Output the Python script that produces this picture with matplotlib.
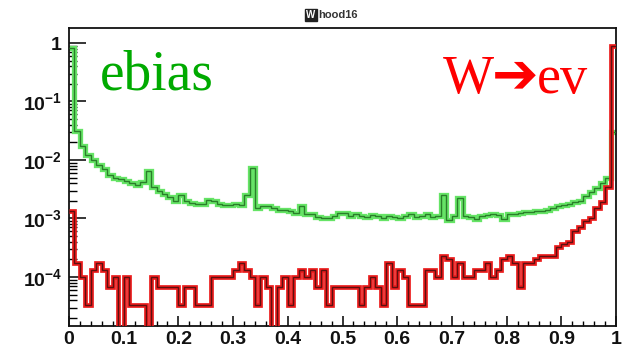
import numpy as np
import matplotlib
matplotlib.use("Agg")
import matplotlib.pyplot as plt
from matplotlib.ticker import FixedLocator, FixedFormatter, MultipleLocator, LogLocator, NullFormatter

plt.rcParams["mathtext.fontset"] = "custom"
plt.rcParams["mathtext.rm"] = "Liberation Sans:bold"
plt.rcParams["mathtext.it"] = "Liberation Sans:bold"
plt.rcParams["mathtext.bf"] = "Liberation Sans:bold"

# ---------------- data ----------------
bin_edges_range = (0.0, 1.0)
n_bins = 100

ebias = [
    0.83, 0.0316, 0.0170, 0.0120, 0.0100, 0.0083, 0.0069, 0.0056, 0.0050, 0.0047,
    0.0044, 0.0041, 0.0038, 0.0042, 0.0065, 0.0035, 0.0030, 0.0026, 0.0023, 0.0020,
    0.0025, 0.0020, 0.00186, 0.00178, 0.00178, 0.0021, 0.0020, 0.0018, 0.0017, 0.0017,
    0.00175, 0.0017, 0.0025, 0.0072, 0.00148, 0.0016, 0.0016, 0.0015, 0.0014, 0.00138,
    0.00132, 0.00126, 0.00166, 0.00117, 0.0012, 0.00107, 0.0010, 0.0010, 0.0011, 0.00126,
    0.00125, 0.00112, 0.00120, 0.00110, 0.00105, 0.00115, 0.00110, 0.00102, 0.00112, 0.00105,
    0.00100, 0.00108, 0.00118, 0.00104, 0.00110, 0.00120, 0.00105, 0.00112, 0.0025, 0.00095,
    0.00110, 0.0022, 0.00110, 0.00105, 0.00098, 0.00110, 0.00115, 0.00118, 0.00115, 0.00098,
    0.00118, 0.00120, 0.00125, 0.00128, 0.00130, 0.00132, 0.00135, 0.00140, 0.00150, 0.00160,
    0.00170, 0.00175, 0.00190, 0.00200, 0.00240, 0.00280, 0.00330, 0.00400, 0.00500, 0.030,
]

w_enu = [
    1.35e-3, 1.7e-4, 1.0e-4, 3.3e-5, 1.3e-4, 1.7e-4, 1.3e-4, 6.7e-5, 1.0e-4, 0.0,
    1.0e-4, 3.3e-5, 3.3e-5, 3.3e-5, 0.0, 1.0e-4, 6.7e-5, 6.7e-5, 6.7e-5, 6.7e-5,
    3.3e-5, 6.7e-5, 6.7e-5, 3.3e-5, 3.3e-5, 3.3e-5, 1.0e-4, 1.0e-4, 1.0e-4, 1.0e-4,
    1.3e-4, 1.7e-4, 1.3e-4, 1.0e-4, 3.3e-5, 1.0e-4, 6.7e-5, 0.0, 6.7e-5, 1.0e-4,
    3.3e-5, 1.0e-4, 1.3e-4, 1.0e-4, 1.3e-4, 6.7e-5, 1.3e-4, 3.3e-5, 6.7e-5, 6.7e-5,
    6.7e-5, 6.7e-5, 6.7e-5, 3.3e-5, 6.7e-5, 1.0e-4, 6.7e-5, 3.3e-5, 1.7e-4, 6.7e-5,
    1.3e-4, 1.0e-4, 3.3e-5, 3.3e-5, 3.3e-5, 1.3e-4, 1.3e-4, 1.0e-4, 2.3e-4, 2.0e-4,
    1.0e-4, 1.7e-4, 1.0e-4, 1.0e-4, 1.3e-4, 1.3e-4, 1.7e-4, 1.0e-4, 1.3e-4, 2.0e-4,
    2.3e-4, 1.7e-4, 6.7e-5, 1.7e-4, 1.7e-4, 2.0e-4, 2.3e-4, 2.3e-4, 2.3e-4, 3.3e-4,
    3.7e-4, 4.0e-4, 6.0e-4, 7.0e-4, 9.0e-4, 1.0e-3, 1.5e-3, 1.9e-3, 3.5e-3, 0.9,
]

x_tick_values = [0, 0.1, 0.2, 0.3, 0.4, 0.5, 0.6, 0.7, 0.8, 0.9, 1.0]
x_tick_labels = ["0", "0.1", "0.2", "0.3", "0.4", "0.5", "0.6", "0.7", "0.8", "0.9", "1"]
y_tick_values = [1e-4, 1e-3, 1e-2, 1e-1, 1.0]
y_tick_labels = [r"$10^{-4}$", r"$10^{-3}$", r"$10^{-2}$", r"$10^{-1}$", r"$1$"]
title_box_char = "W"
title_rest = "hood16"
label_ebias = "ebias"
label_w_left = "W"
label_arrow = "\u2794"
label_w_right = "ev"

# ---------------- figure ----------------
W, H = 623, 349
fig = plt.figure(figsize=(W / 100, H / 100), dpi=100)
ax = fig.add_axes([69 / W, 23 / H, 547 / W, 298 / H])

edges = np.linspace(bin_edges_range[0], bin_edges_range[1], n_bins + 1)
green = np.asarray(ebias, dtype=float)
red = np.asarray(w_enu, dtype=float)
floor = 1e-8
green_plot = np.where(green > 0, green, floor)
red_plot = np.where(red > 0, red, floor)

ax.stairs(green_plot, edges, baseline=None, color="#66e466", lw=3.8, zorder=2)
ax.stairs(green_plot, edges, baseline=None, color="#2a7d2a", lw=1.0, zorder=3)
ax.stairs(red_plot, edges, baseline=None, color="#ec1c1c", lw=3.4, zorder=4)
ax.stairs(red_plot, edges, baseline=None, color="#5c1010", lw=1.0, zorder=5)

ax.set_yscale("log")
ax.set_xlim(0, 1)
ax.set_ylim(1.45e-5, 1.8)

ax.xaxis.set_major_locator(FixedLocator(x_tick_values))
ax.xaxis.set_major_formatter(FixedFormatter(x_tick_labels))
ax.xaxis.set_minor_locator(MultipleLocator(0.02))
ax.yaxis.set_major_locator(FixedLocator(y_tick_values))
ax.yaxis.set_major_formatter(FixedFormatter(y_tick_labels))
ax.yaxis.set_minor_locator(LogLocator(base=10, subs=np.arange(2, 10), numticks=20))
ax.yaxis.set_minor_formatter(NullFormatter())

ax.tick_params(axis="x", which="major", direction="in", length=7, width=1.1,
               pad=3.5, labelsize=14, top=False)
ax.tick_params(axis="x", which="minor", direction="in", length=3.6, width=1.0, top=False)
ax.tick_params(axis="y", which="major", direction="in", length=12, width=1.1,
               pad=5, labelsize=14, right=False)
ax.tick_params(axis="y", which="minor", direction="in", length=6, width=1.0, right=False)
for lab in ax.get_xticklabels():
    lab.set_fontfamily("Liberation Sans")
    lab.set_fontweight("bold")
    lab.set_color("#111111")
for lab in ax.get_yticklabels():
    lab.set_color("#111111")

for sp in ax.spines.values():
    sp.set_linewidth(1.3)
    sp.set_color("#111111")

# labels
fig.text(100 / W, (H - 90) / H, label_ebias, family="Liberation Serif", fontsize=40,
         color="#00aa00", ha="left", va="baseline")
fig.text(443 / W, (H - 93) / H, label_w_left, family="Liberation Serif", fontsize=39,
         color="#ff0000", ha="left", va="baseline")
fig.text(515 / W, (H - 77) / H, label_arrow, family="DejaVu Sans", fontsize=40,
         fontweight="bold", color="#ff0000", ha="center", va="center")
fig.text(537 / W, (H - 93) / H, label_w_right, family="Liberation Serif", fontsize=39,
         color="#ff0000", ha="left", va="baseline")

# title
fig.text(311 / W, (H - 15) / H, title_box_char, family="Liberation Sans", fontsize=7,
         fontweight="bold", color="white", ha="center", va="center",
         bbox=dict(boxstyle="square,pad=0.15", facecolor="#222222", edgecolor="#222222"))
fig.text(318 / W, (H - 15) / H, title_rest, family="Liberation Sans", fontsize=8,
         fontweight="bold", color="#333333", ha="left", va="center")

fig.savefig("out.png", dpi=100)
